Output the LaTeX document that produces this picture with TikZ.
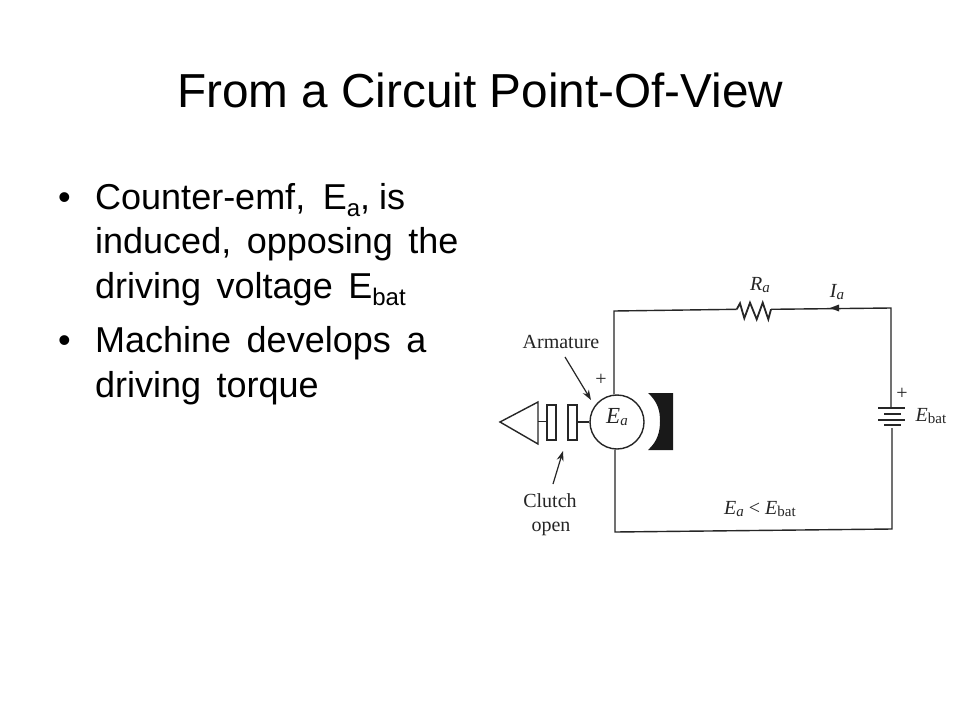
\documentclass[tikz,border=0pt]{standalone}
\usepackage{fontspec}
\setmainfont{Liberation Sans}
\newfontfamily\scanserif{Liberation Serif}
\newfontfamily\widebody[WordSpace=1.55]{Liberation Sans}
\usetikzlibrary{arrows.meta}
\newcommand{\bodysub}[1]{\raisebox{-7pt}{\fontsize{24}{24}\selectfont #1}}
\newcommand{\scanvar}[1]{{\scanserif\itshape #1}}
\newcommand{\scansubi}[1]{\raisebox{-2.5pt}{\fontsize{15}{15}\selectfont\scanserif\itshape #1}}
\newcommand{\scansubr}[1]{\raisebox{-2.5pt}{\fontsize{15}{15}\selectfont\scanserif #1}}
\tikzset{
  titletext/.style={anchor=base west,inner sep=0pt,font=\fontsize{47.7}{48}\selectfont,text=black},
  bodytext/.style={anchor=base west,inner sep=0pt,font=\widebody\fontsize{36}{36}\selectfont,text=black},
  scanlabel/.style={inner sep=0pt,font=\scanserif\fontsize{20}{20}\selectfont,text=black!85},
  scanbase/.style={scanlabel,anchor=base},
  wire/.style={draw=black!85,line width=1.4pt},
  pointer/.style={draw=black!85,line width=1.2pt,-{Stealth[length=10pt,width=7pt]}},
  clutchplate/.style={draw=black!85,line width=1.4pt,minimum width=9pt,minimum height=35pt,inner sep=0pt},
}
\begin{document}
\begin{tikzpicture}[x=1pt,y=-1pt]
\useasboundingbox[fill=white] (0,0) rectangle (960,720);
\node[titletext] (title) at (177,107) {From a Circuit Point-Of-View};
\node[bodytext] (b1) at (58,209) {•};
\node[bodytext] (l1) at (95,209) {Counter-emf,\hspace{2pt} E\bodysub{a},\hspace{9pt}is};
\node[bodytext] (l2) at (95,253) {induced, opposing the};
\node[bodytext] (l3) at (95,298) {driving voltage E\bodysub{bat}};
\node[bodytext] (b2) at (58,352) {•};
\node[bodytext] (l4) at (95,352) {Machine develops a};
\node[bodytext] (l5) at (95,397) {driving torque};
% armature and clutch
\node[circle,draw=black!85,line width=1.4pt,minimum size=54pt,inner sep=0pt] (arm) at (617,422) {};
\node[scanbase,font=\scanserif\fontsize{23}{23}\selectfont] (ea) at (617,423) {\scanvar{E}\scansubi{a}};
\coordinate (tl) at (614,311);
\coordinate (tr) at (891,308);
\coordinate (br) at (892,529);
\coordinate (bl) at (615,532);
\coordinate (rs) at (736.7,309.3);
\coordinate (re) at (771,309.3);
\coordinate (bt) at (891,408);
\coordinate (bb) at (892,428);
\draw[wire] (arm.north -| tl) -- (tl) -- (rs);
\draw[wire,line width=1.8pt,line join=miter] (rs) -- (740,303.3) -- (744.3,318.3) -- (750,302.7) -- (756.7,319.3) -- (762.7,302.7) -- (768.3,319.3) -- (re);
\draw[wire] (re) -- (tr) -- (bt);
\draw[wire] (bb) -- (br) -- (bl) -- (arm.south -| bl);
\fill[black!85] (830,308) -- (839,304.5) -- (839,311.5) -- cycle;
% battery
\draw[wire] (878,408) -- (905,408);
\draw[wire] (884,414) -- (901,414);
\draw[wire] (878,420) -- (905,420);
\draw[wire] (884,425) -- (901,425);
% pole piece
\fill[black!90] (648,393) -- (673,393) -- (673,450) -- (648,450) .. controls (658,441) and (660,431) .. (660,421) .. controls (660,411) and (658,402) .. (648,393) -- cycle;
% load and clutch
\node[clutchplate] (c1) at (551.5,422.5) {};
\node[clutchplate] (c2) at (572.5,422.5) {};
\draw[wire,line join=miter] (500,422) -- (538,402) -- (538,444) -- cycle;
\coordinate (tb) at (538,421.5);
\draw[wire] (tb) -- (c1.west |- tb);
\draw[wire] (c2.east |- arm) -- (arm.west);
% labels
\node[scanbase] (larm) at (561,348) {Armature};
\node[scanbase] (lcl) at (550,507) {Clutch};
\node[scanbase] (lop) at (551,531) {open};
\node[scanlabel] (lpa) at (601,380) {+};
\node[scanlabel] (lpb) at (902,394) {+};
\node[scanbase] (lra) at (760,290) {\scanvar{R}\scansubi{a}};
\node[scanbase] (lia) at (837,297) {\scanvar{I}\scansubi{a}};
\node[scanbase] (leb) at (931,421) {\scanvar{E}\scansubr{bat}};
\node[scanbase] (lcmp) at (760,514) {\scanvar{E}\scansubi{a} < \scanvar{E}\scansubr{bat}};
\coordinate (pa) at (565,357);
\coordinate (pc) at (553,484);
\draw[pointer] (pa) -- (591,400);
\draw[pointer] (pc) -- (563,451);
\end{tikzpicture}
\end{document}
